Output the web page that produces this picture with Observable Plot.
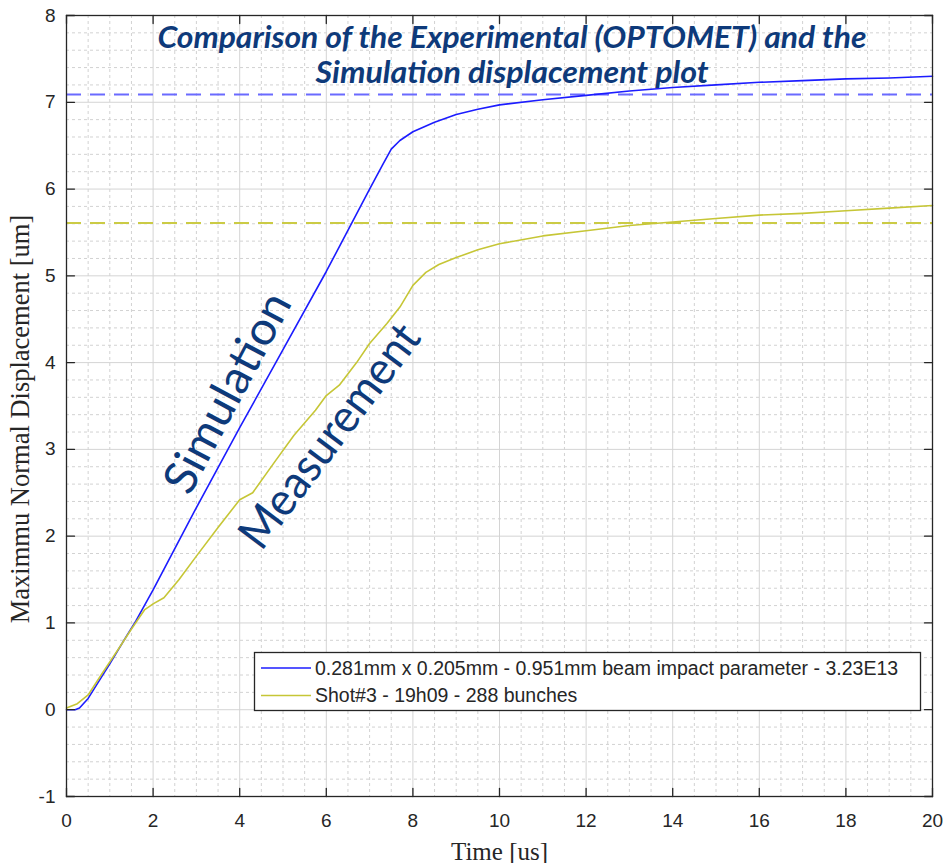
<!DOCTYPE html>
<html>
<head>
<meta charset="utf-8">
<script src="https://cdn.jsdelivr.net/npm/d3@7"></script>
<script src="https://cdn.jsdelivr.net/npm/@observablehq/plot@0.6"></script>
<style>
html, body { margin: 0; padding: 0; background: #fff; }
#chart { width: 946px; height: 863px; }
</style>
</head>
<body>
<div id="chart"></div>
<script>
// ---- data ----
const simTime = [0, 0.2, 0.3, 0.5, 0.8, 1.0, 1.4, 1.6, 2.0, 3.0, 4.0, 5.0, 6.0, 7.0, 7.3, 7.5, 7.7, 8.0, 8.5, 9.0, 9.5, 10, 11, 12, 13, 14, 15, 16, 17, 18, 19, 20];
const simDisp = [0, 0.0, 0.02, 0.13, 0.37, 0.53, 0.86, 1.02, 1.38, 2.33, 3.25, 4.15, 5.05, 6.0, 6.28, 6.46, 6.56, 6.66, 6.77, 6.86, 6.92, 6.97, 7.03, 7.08, 7.13, 7.17, 7.20, 7.23, 7.25, 7.27, 7.28, 7.30];
const measTime = [0, 0.25, 0.5, 0.8, 1.2, 1.5, 1.8, 2.0, 2.25, 2.6, 3.0, 3.5, 4.0, 4.3, 4.8, 5.25, 5.75, 6.0, 6.3, 6.7, 7.0, 7.4, 7.7, 8.0, 8.3, 8.6, 9.0, 9.5, 10, 11, 12, 13, 14, 15, 16, 17, 18, 19, 20];
const measDisp = [0.02, 0.07, 0.17, 0.4, 0.7, 0.93, 1.15, 1.22, 1.29, 1.5, 1.77, 2.1, 2.42, 2.5, 2.85, 3.16, 3.45, 3.62, 3.74, 4.0, 4.22, 4.45, 4.64, 4.89, 5.04, 5.13, 5.21, 5.3, 5.37, 5.46, 5.52, 5.58, 5.62, 5.66, 5.70, 5.72, 5.75, 5.78, 5.81];
const asymptoteValues = [7.09, 5.61];
const xTicks = [0, 2, 4, 6, 8, 10, 12, 14, 16, 18, 20];
const yTicks = [-1, 0, 1, 2, 3, 4, 5, 6, 7, 8];
const seriesNames = ["0.281mm x 0.205mm - 0.951mm beam impact parameter - 3.23E13", "Shot#3 - 19h09 - 288 bunches"];
const titleLines = ["Comparison of the Experimental (OPTOMET) and the", "Simulation displacement plot"];
const xLabel = "Time [us]";
const yLabel = "Maximmu Normal Displacement [um]";
const annotLabels = ["Simulation", "Measurement"];
const annotTime = [3.73, 6.09];
const annotDisp = [3.65, 3.15];

// ---- styles ----
const blue = "#1c1cff", yellow = "#c6c636";
const blueDash = "#6a6aff", yellowDash = "#cbcb45";
const navy = "#0e3a7a";
const axisColor = "#262626";
const tickFont = "'Liberation Sans', Arial, sans-serif";
const tickShape = {draw(context, l) { context.moveTo(0, 0); context.lineTo(0, -l); }};

const sim = simTime.map((t, i) => ({t, v: simDisp[i]}));
const meas = measTime.map((t, i) => ({t, v: measDisp[i]}));
const annots = annotLabels.map((label, i) => ({label, t: annotTime[i], v: annotDisp[i], rot: i === 0 ? -62 : -53}));
const isMajor = v => Math.abs(v - Math.round(v)) < 1e-6;
const xMinor = d3.range(0, 20.001, 0.5).filter(v => !(isMajor(v) && Math.round(v) % 2 === 0));
const yMinor = d3.range(-1, 8.001, 0.2).filter(v => !isMajor(v));

const inwardTicks = (ticks, channel, frameAnchor, rotate) =>
  Plot.vector(ticks, {[channel]: d => d, frameAnchor, rotate, length: 8, anchor: "start",
    shape: tickShape, stroke: axisColor, strokeWidth: 1.3});

const svg = Plot.plot({
  width: 946,
  height: 863,
  marginLeft: 66,
  marginRight: 14,
  marginTop: 15,
  marginBottom: 67,
  x: {domain: [0, 20], axis: null},
  y: {domain: [-1, 8], axis: null},
  style: {background: "white", overflow: "visible"},
  marks: [
    Plot.ruleX(xMinor, {stroke: "#d2d2d2", strokeDasharray: "3,3"}),
    Plot.ruleY(yMinor, {stroke: "#d2d2d2", strokeDasharray: "3,3"}),
    Plot.ruleX(xTicks, {stroke: "#d4d4d4"}),
    Plot.ruleY(yTicks, {stroke: "#d4d4d4"}),
    Plot.ruleY([asymptoteValues[0]], {stroke: blueDash, strokeWidth: 2, strokeDasharray: "15,9"}),
    Plot.ruleY([asymptoteValues[1]], {stroke: yellowDash, strokeWidth: 2, strokeDasharray: "15,9"}),
    Plot.line(sim, {x: "t", y: "v", stroke: blue, strokeWidth: 1.6}),
    Plot.line(meas, {x: "t", y: "v", stroke: yellow, strokeWidth: 1.6}),
    Plot.text([titleLines[0]], {text: d => d, frameAnchor: "top", dx: 12.5, dy: 32, lineAnchor: "bottom", textAnchor: "middle",
      fontFamily: "Lato", fontWeight: "bold", fontStyle: "italic", fontSize: 30, fill: navy, className: "ttl1"}),
    Plot.text([titleLines[1]], {text: d => d, frameAnchor: "top", dx: 12.5, dy: 67, lineAnchor: "bottom", textAnchor: "middle",
      fontFamily: "Lato", fontWeight: "bold", fontStyle: "italic", fontSize: 30, fill: navy, className: "ttl2"}),
    Plot.text(annots, {x: "t", y: "v", text: "label", rotate: "rot", lineAnchor: "middle", textAnchor: "middle",
      fontFamily: "Lato", fontSize: 46, fill: navy, className: "annot"}),
    Plot.frame({stroke: axisColor, strokeWidth: 1.3}),
    inwardTicks(xTicks, "x", "bottom", 0),
    inwardTicks(xTicks, "x", "top", 180),
    inwardTicks(yTicks, "y", "left", 90),
    inwardTicks(yTicks, "y", "right", -90),
    Plot.axisX(xTicks, {anchor: "bottom", tickSize: 0, tickPadding: 17, fontSize: 19,
      fontFamily: tickFont, color: axisColor, label: null, tickFormat: d => String(d)}),
    Plot.axisY(yTicks, {anchor: "left", tickSize: 0, tickPadding: 11, fontSize: 19,
      fontFamily: tickFont, color: axisColor, label: null, tickFormat: d => String(d)}),
    Plot.text([xLabel], {text: d => d, frameAnchor: "bottom", dy: 55, lineAnchor: "middle", textAnchor: "middle",
      fontFamily: "'Liberation Serif', 'Times New Roman', serif", fontSize: 25, fill: axisColor}),
    Plot.text([yLabel], {text: d => d, frameAnchor: "left", dx: -46, dy: 13, rotate: -90, lineAnchor: "middle", textAnchor: "middle",
      fontFamily: "'Liberation Serif', 'Times New Roman', serif", fontSize: 26.5, fill: axisColor})
  ]
});

// fit title and annotation widths
const root = d3.select(svg);
root.selectAll(".ttl1 text").attr("textLength", 709).attr("lengthAdjust", "spacingAndGlyphs");
root.selectAll(".ttl2 text").attr("textLength", 393).attr("lengthAdjust", "spacingAndGlyphs");
const annotLen = [220, 268];
root.selectAll(".annot text").each(function(d, i) {
  d3.select(this).attr("textLength", annotLen[i]).attr("lengthAdjust", "spacingAndGlyphs");
});

// legend box
const lg = root.append("g")
  .attr("font-family", tickFont)
  .attr("font-size", 19.5)
  .attr("text-anchor", "start");
lg.append("rect").attr("x", 254.5).attr("y", 652.5).attr("width", 666).attr("height", 58)
  .attr("fill", "white").attr("stroke", axisColor).attr("stroke-width", 1.3);
const legendColors = [blue, yellow];
seriesNames.forEach((name, i) => {
  const cy = 668 + i * 27.5;
  lg.append("line").attr("x1", 261).attr("x2", 311).attr("y1", cy).attr("y2", cy)
    .attr("stroke", legendColors[i]).attr("stroke-width", 1.6);
  lg.append("text").attr("x", 315).attr("y", cy).attr("dy", "0.35em")
    .attr("text-anchor", "start").attr("fill", axisColor).text(name);
});

document.getElementById("chart").appendChild(svg);
</script>
</body>
</html>
